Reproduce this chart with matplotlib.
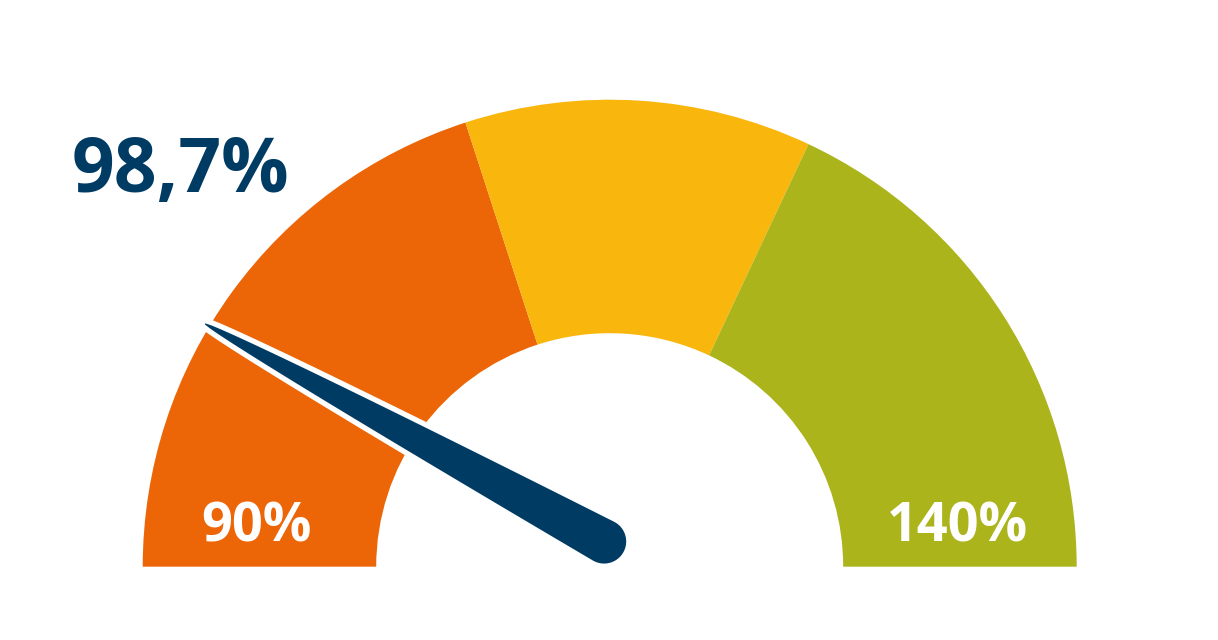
import numpy as np
import matplotlib
matplotlib.use("Agg")
import matplotlib.pyplot as plt
from matplotlib.patches import Wedge, Polygon

# gauge scale and bands
GAUGE_MIN, GAUGE_MAX = 90, 140
BAND_EDGES = [90, 110, 122, 140]
BAND_COLORS = ["#EC6608", "#F9B60C", "#ABB41B"]
VALUE = 98.7
VALUE_LABEL = "98,7%"
END_LABELS = ["90%", "140%"]
NAVY = "#003B64"

INNER = 0.5  # inner radius as fraction of outer


def to_angle(v):
    return 180.0 - (v - GAUGE_MIN) / (GAUGE_MAX - GAUGE_MIN) * 180.0


def needle_shape(tip, base, hw_tip, hw_base, n=80):
    """Tapered needle with rounded ends, as polygon vertices."""
    tip, base = np.asarray(tip), np.asarray(base)
    axis = tip - base
    u = axis / np.hypot(*axis)
    perp = np.array([-u[1], u[0]])
    t = np.linspace(0, 1, n)  # 0 at tip, 1 at base
    hw = hw_tip + (hw_base - hw_tip) * t ** 0.7
    centre = tip[None, :] + t[:, None] * (base - tip)[None, :]
    left = centre + hw[:, None] * perp
    right = centre - hw[:, None] * perp
    a0 = np.arctan2(perp[1], perp[0])
    # arc round the base (away from tip)
    ab = np.linspace(a0, a0 + np.pi, 30)
    base_arc = base + hw_base * np.c_[np.cos(ab), np.sin(ab)]
    # arc round the tip
    at = np.linspace(a0 + np.pi, a0 + 2 * np.pi, 12)
    tip_arc = tip + hw_tip * np.c_[np.cos(at), np.sin(at)]
    return np.vstack([left, base_arc, right[::-1], tip_arc])


fig = plt.figure(figsize=(12.18, 6.4), dpi=100)
ax = fig.add_axes([0, 0, 1, 1])
ax.set_xlim(-1.3056, 1.3026)
ax.set_ylim(-0.157, 1.2135)
ax.set_aspect("equal")
ax.axis("off")

for lo, hi, col in zip(BAND_EDGES[:-1], BAND_EDGES[1:], BAND_COLORS):
    ax.add_patch(Wedge((0, 0), 1.0, to_angle(hi), to_angle(lo),
                       width=1.0 - INNER, facecolor=col, edgecolor="none"))

ang = np.deg2rad(to_angle(VALUE) + 0.35)
tip = 1.01 * np.array([np.cos(ang), np.sin(ang)])
base = np.array([-0.012, 0.054])
pts = needle_shape(tip, base, 0.007, 0.053)
ax.add_patch(Polygon(pts, closed=True, facecolor=NAVY, edgecolor="white",
                     linewidth=3.8, joinstyle="round", zorder=3))

ax.text(-0.920, 0.802, VALUE_LABEL, ha="center", va="baseline",
        fontsize=54, fontweight="bold", color=NAVY, family="Open Sans")

mid = (1.0 + INNER) / 2
for lab, side in zip(END_LABELS, [-1, 1]):
    ax.text(side * mid - 0.006, 0.053, lab, ha="center", va="baseline",
            fontsize=39, fontweight="bold", color="white",
            family="Open Sans", zorder=4)

fig.savefig("out.png", dpi=100)
